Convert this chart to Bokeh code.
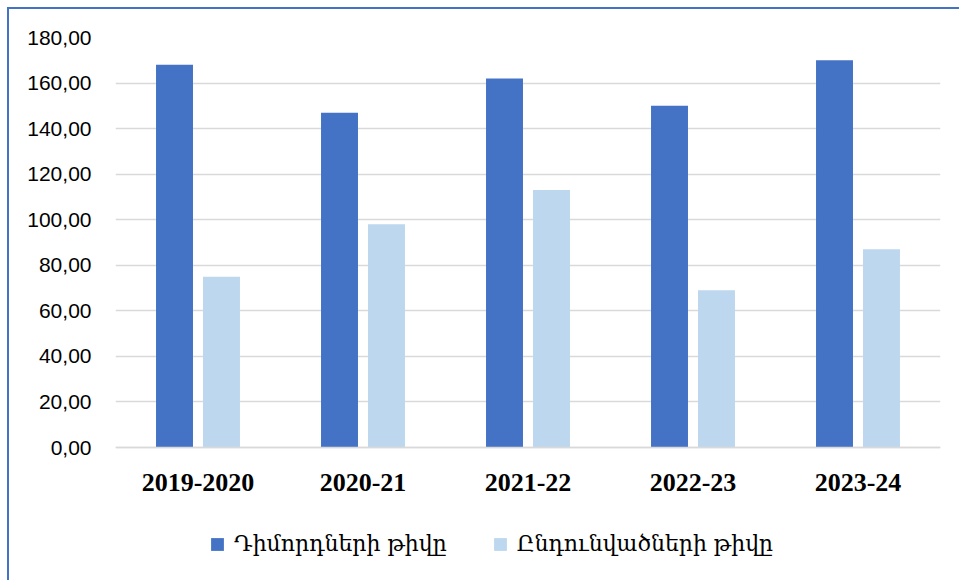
from bokeh.plotting import figure
from bokeh.models import ColumnDataSource, FixedTicker, Legend, LegendItem
from bokeh.transform import dodge
from bokeh.embed import file_html
from bokeh.resources import INLINE

categories = ["2019-2020", "2020-21", "2021-22", "2022-23", "2023-24"]
applicants = [168, 147, 162, 150, 170]
admitted = [75, 98, 113, 69, 87]
series_names = ["Դիմորդների թիվը", "Ընդունվածների թիվը"]
y_ticks = [0, 20, 40, 60, 80, 100, 120, 140, 160, 180]
y_tick_labels = ["0,00", "20,00", "40,00", "60,00", "80,00", "100,00", "120,00", "140,00", "160,00", "180,00"]

src = ColumnDataSource(dict(cat=categories, a=applicants, b=admitted))

y_max = 180
y_min = -y_max * 120 / 410  # room below the axis for labels and legend

p = figure(x_range=categories, y_range=(y_min, y_max), frame_width=825, frame_height=530,
           output_backend="svg", toolbar_location=None,
           min_border_left=106, min_border_right=19, min_border_top=28, min_border_bottom=13)
p.styles = {"border-top": "2px solid #4472C4", "border-left": "2px solid #4472C4"}
p.margin = (7, 0, 0, 7)
p.outline_line_color = None
p.background_fill_color = "white"
p.border_fill_color = "white"

r1 = p.vbar(x=dodge("cat", -0.1424, range=p.x_range), top="a", width=0.224, source=src,
            fill_color="#4472C4", line_color=None)
r2 = p.vbar(x=dodge("cat", 0.1424, range=p.x_range), top="b", width=0.224, source=src,
            fill_color="#BDD7EE", line_color=None)

p.xgrid.grid_line_color = None
p.ygrid.grid_line_color = "#d9d9d9"
p.ygrid.grid_line_width = 1.5
p.ygrid.ticker = FixedTicker(ticks=y_ticks)
p.yaxis.ticker = FixedTicker(ticks=y_ticks)
p.yaxis.major_label_overrides = {t: l for t, l in zip(y_ticks, y_tick_labels)}
p.yaxis.axis_line_color = None
p.yaxis.major_tick_line_color = None
p.yaxis.minor_tick_line_color = None
p.yaxis.major_label_text_font = "Liberation Sans"
p.yaxis.major_label_text_font_size = "21px"
p.yaxis.major_label_text_color = "#000000"
p.yaxis.major_label_standoff = 18

p.xaxis.fixed_location = 0
p.xaxis.axis_line_color = "#d9d9d9"
p.xaxis.axis_line_width = 1.5
p.xaxis.major_tick_line_color = None
p.xaxis.minor_tick_line_color = None
p.xaxis.major_label_text_font = "Liberation Serif"
p.xaxis.major_label_text_font_style = "bold"
p.xaxis.major_label_text_font_size = "26px"
p.xaxis.major_label_text_color = "#000000"
p.xaxis.major_label_standoff = 20

legend = Legend(items=[LegendItem(label=series_names[0], renderers=[r1]),
                       LegendItem(label=series_names[1], renderers=[r2])],
                orientation="horizontal", location=(94, 11))
legend.label_text_font = "DejaVu Serif"
legend.label_text_font_size = "22px"
legend.label_text_color = "#000000"
legend.glyph_width = 16
legend.glyph_height = 16
legend.spacing = 45
legend.label_standoff = 9
legend.border_line_color = None
legend.background_fill_alpha = 0
legend.margin = 0
legend.padding = 0
p.add_layout(legend, "center")

open("out.html", "w").write(file_html(p, INLINE))
